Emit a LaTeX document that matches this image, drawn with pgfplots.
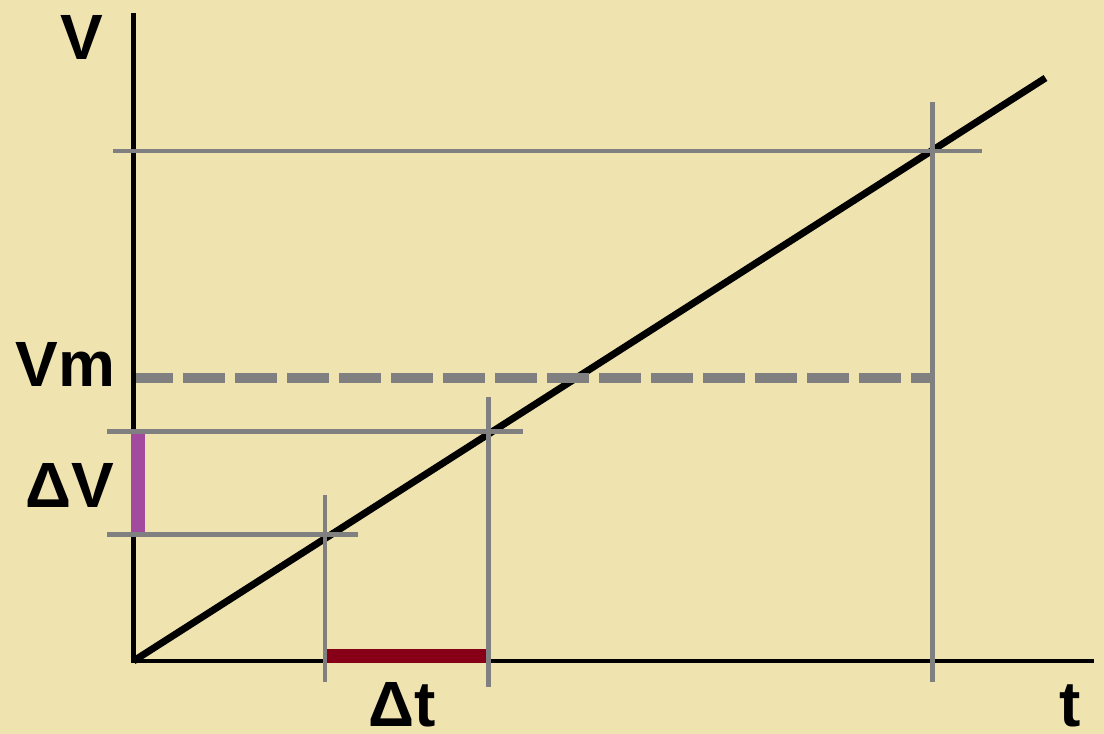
\documentclass[border=0pt]{standalone}
\usepackage{fontspec}
\setmainfont{Liberation Sans}
\usepackage{pgfplots}
\pgfplotsset{compat=1.18}

\definecolor{paper}{HTML}{EFE3B0}
\definecolor{guide}{HTML}{808080}
\definecolor{dvbar}{HTML}{A24A9E}
\definecolor{dtbar}{HTML}{880018}

\tikzset{lbl/.style={inner sep=0pt, anchor=base, font=\fontsize{64}{64}\selectfont\bfseries}}

\begin{document}
\begin{tikzpicture}
\begin{axis}[
  scale only axis,
  width=1104pt, height=734pt,
  xmin=-133.5, xmax=970.5,
  ymin=-73, ymax=661,
  hide axis,
  clip=false,
]
  % paper background
  \fill[paper] (rel axis cs:0,0) rectangle (rel axis cs:1,1);

  % axes
  \addplot[black, line width=5pt] coordinates {(0,648) (0,-2)};
  \addplot[black, line width=4.5pt] coordinates {(-2,0) (960.5,0)};

  % V(t), uniformly accelerated motion
  \addplot[black, line width=7pt] coordinates {(0,0) (912,583)};

  % increments
  \addplot[dvbar, line width=14pt] coordinates {(4.5,129) (4.5,229)};
  \addplot[dtbar, line width=14pt] coordinates {(192.5,5) (352.5,5)};

  % mean velocity
  \addplot[guide, line width=10pt, dash pattern=on 42pt off 10pt, dash phase=5pt]
    coordinates {(2.5,283) (797,283)};

  % guide lines
  \addplot[guide, line width=4.5pt] coordinates {(-20.5,510) (848.5,510)};
  \addplot[guide, line width=4.5pt] coordinates {(799,559) (799,-21)};
  \addplot[guide, line width=4.5pt] coordinates {(-26.5,229.5) (389.5,229.5)};
  \addplot[guide, line width=4.5pt] coordinates {(-26.5,126.5) (224.5,126.5)};
  \addplot[guide, line width=4.5pt] coordinates {(191.5,166) (191.5,-21)};
  \addplot[guide, line width=4.5pt] coordinates {(355,264) (355,-26)};

  % labels
  \node[lbl] at (axis cs:-51.5,601) {V};
  \node[lbl] at (axis cs:-68,274) {Vm};
  \node[lbl] at (axis cs:-63.5,153) {ΔV};
  \node[lbl] at (axis cs:268.5,-66) {Δt};
  \node[lbl] at (axis cs:936.5,-66) {t};
\end{axis}
\end{tikzpicture}
\end{document}
